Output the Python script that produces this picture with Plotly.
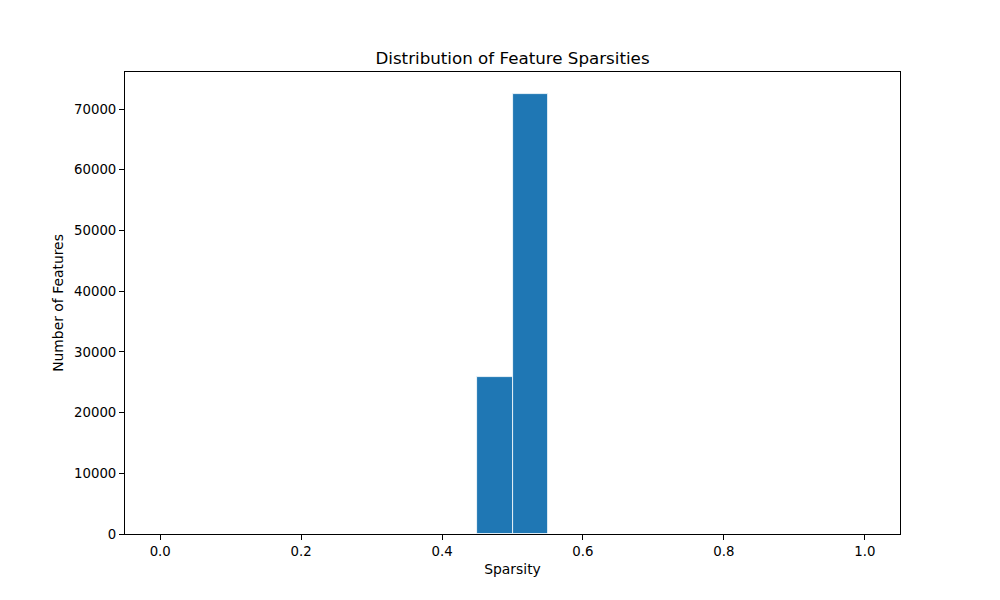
import numpy as np
import plotly.graph_objects as go

bin_edges = [0.0, 0.05, 0.10, 0.15, 0.20, 0.25, 0.30, 0.35, 0.40, 0.45, 0.50,
             0.55, 0.60, 0.65, 0.70, 0.75, 0.80, 0.85, 0.90, 0.95, 1.0]
counts = [0, 0, 0, 0, 0, 0, 0, 0, 0, 25900, 72470,
          0, 0, 0, 0, 0, 0, 0, 0, 0]

edges = np.array(bin_edges)
centers = (edges[:-1] + edges[1:]) / 2
widths = edges[1:] - edges[:-1]

fig = go.Figure(go.Bar(
    x=centers, y=counts, width=widths,
    marker=dict(color="#1f77b4", line=dict(color="white", width=0.8)),
))

font = "DejaVu Sans, sans-serif"
axis_common = dict(
    showline=True, linecolor="black", linewidth=1, mirror=True,
    ticks="outside", ticklen=5, tickcolor="black", showgrid=False, zeroline=False,
    tickfont=dict(family=font, size=13.3, color="black"),
)
fig.update_layout(
    width=1000, height=600,
    margin=dict(l=117, r=108, t=64, b=74),
    paper_bgcolor="white", plot_bgcolor="white",
    showlegend=False,
    bargap=0,
    title=dict(text="Distribution of Feature Sparsities", x=(117 + 892) / 2 / 1000, xanchor="center",
               y=1 - 50 / 600, yanchor="middle",
               font=dict(family=font, size=16.7, color="black")),
    xaxis=dict(range=[-0.05, 1.05], tickmode="array",
               tickvals=[0, 0.2, 0.4, 0.6, 0.8, 1.0],
               ticktext=["0.0", "0.2", "0.4", "0.6", "0.8", "1.0"],
               title=dict(text="Sparsity", font=dict(family=font, size=13.9, color="black"), standoff=6),
               **axis_common),
    yaxis=dict(range=[0, 76100], tickmode="linear", tick0=0, dtick=10000, tickformat="d",
               title=dict(text="Number of Features", font=dict(family=font, size=13.9, color="black"), standoff=7),
               **axis_common),
)

fig.write_html("out.html")
